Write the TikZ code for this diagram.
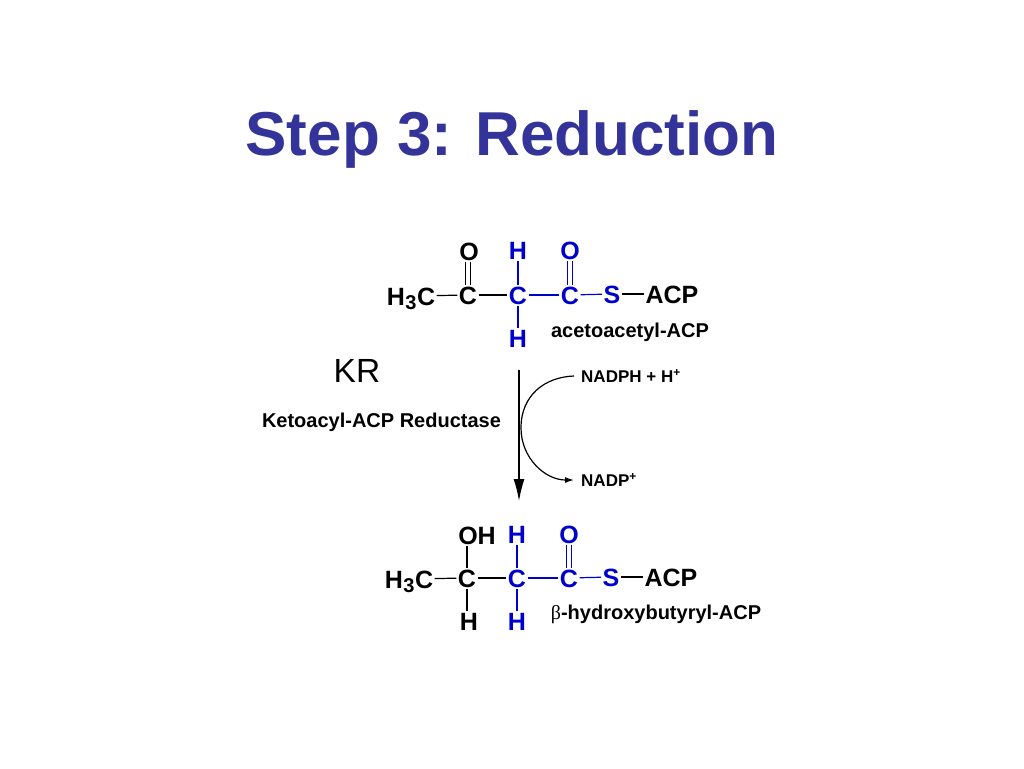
\documentclass[tikz,border=0pt]{standalone}
\usepackage{fontspec}
\setmainfont{Liberation Sans}
\newfontfamily\betafont{Liberation Serif}
\usetikzlibrary{arrows.meta}
\definecolor{titleblue}{HTML}{333399}
\definecolor{chemblue}{HTML}{0000CC}
\newcommand{\methyl}{H\kern0.5pt\raisebox{-4pt}{\fontsize{20}{20}\bfseries\selectfont 3}\kern0.5ptC}
\tikzset{
  x=1pt,y=-1pt,
  atom/.style={inner sep=0pt,outer sep=1.5pt,font=\fontsize{25}{25}\bfseries\selectfont,text height=18pt,text depth=0pt},
  batom/.style={atom,text=chemblue},
  bond/.style={line width=1.2pt,black},
  bbond/.style={line width=1.2pt,chemblue},
  caption/.style={inner sep=0pt,font=\fontsize{20}{20}\bfseries\selectfont},
  cofactor/.style={inner sep=0pt,anchor=west,font=\fontsize{17}{17}\bfseries\selectfont},
}
\begin{document}
\begin{tikzpicture}
\useasboundingbox (0,0) rectangle (1024,768);
\fill[white] (0,0) rectangle (1024,768);
\node[inner sep=0pt,text=titleblue,font=\fontsize{62}{62}\bfseries\selectfont] (title) at (512,139) {Step 3: Reduction};
% top molecule
\node[atom] (tch3) at (411,296) {\methyl};
\node[atom] (tc1) at (468,295) {C};
\node[atom] (to1) at (469,251) {O};
\node[batom] (tc2) at (518,295) {C};
\node[batom] (th1) at (518,250) {H};
\node[batom] (th2) at (518,338) {H};
\node[batom] (tc3) at (570,295) {C};
\node[batom] (to2) at (570,250) {O};
\node[batom] (ts) at (612,294) {S};
\node[atom] (tacp) at (672,294) {ACP};
\draw[bond] (tch3) -- (tc1);
\draw[bond] (tc1) -- (tc2);
\draw[bond] ([xshift=-2.5pt]tc1.north) -- ([xshift=-2.5pt]tc1.north |- to1.south);
\draw[bond] ([xshift=2.5pt]tc1.north) -- ([xshift=2.5pt]tc1.north |- to1.south);
\draw[bbond] (tc2) -- (th1);
\draw[bbond] (tc2) -- (th2);
\draw[bbond] (tc2) -- (tc3);
\draw[bbond] ([xshift=-2.5pt]tc3.north) -- ([xshift=-2.5pt]to2.south);
\draw[bbond] ([xshift=2.5pt]tc3.north) -- ([xshift=2.5pt]to2.south);
\draw[bbond] (tc3) -- (ts);
\draw[bond] (ts) -- (tacp);
\node[caption] (tname) at (630,332) {acetoacetyl-ACP};
% enzyme
\node[inner sep=0pt,font=\fontsize{33.5}{33.5}\selectfont] (kr) at (357,371) {KR};
\node[caption] (kname) at (381.5,422) {Ketoacyl-ACP Reductase};
% cofactor
\node[cofactor] (nadph) at (581,376) {NADPH + H\textsuperscript{+}};
\node[cofactor] (nadp) at (581,480) {NADP\textsuperscript{+}};
\coordinate (astart) at (519,370);
\coordinate (aend) at (519,501);
\draw[line width=1.4pt,-{Latex[length=22pt,width=11pt]}] (astart) -- (aend);
\draw[line width=1.2pt,-{Latex[length=9pt,width=6pt]}] (nadph.west) ++(-7,0) .. controls (545,377) and (521,395) .. (521,428) .. controls (521,458) and (545,480) .. ([xshift=-7pt]nadp.west);
% bottom molecule
\node[atom] (bch3) at (409,579) {\methyl};
\node[atom] (bc1) at (467,578) {C};
\node[atom] (boh) at (477,535) {OH};
\node[atom] (bh0) at (469,621) {H};
\node[batom] (bc2) at (517,578) {C};
\node[batom] (bh1) at (517,534) {H};
\node[batom] (bh2) at (517,621) {H};
\node[batom] (bc3) at (569,578) {C};
\node[batom] (bo2) at (569,534) {O};
\node[batom] (bs) at (611,577) {S};
\node[atom] (bacp) at (671,577) {ACP};
\draw[bond] (bch3) -- (bc1);
\draw[bond] (bc1) -- (bc2);
\draw[bond] (bc1.north) -- (bc1.north |- boh.south);
\draw[bond] (bc1) -- (bc1 |- bh0.north);
\draw[bbond] (bc2) -- (bh1);
\draw[bbond] (bc2) -- (bh2);
\draw[bbond] (bc2) -- (bc3);
\draw[bbond] ([xshift=-2.5pt]bc3.north) -- ([xshift=-2.5pt]bo2.south);
\draw[bbond] ([xshift=2.5pt]bc3.north) -- ([xshift=2.5pt]bo2.south);
\draw[bbond] (bc3) -- (bs);
\draw[bond] (bs) -- (bacp);
\node[caption] (bname) at (656,614) {{\betafont\mdseries β}-hydroxybutyryl-ACP};
\end{tikzpicture}
\end{document}
